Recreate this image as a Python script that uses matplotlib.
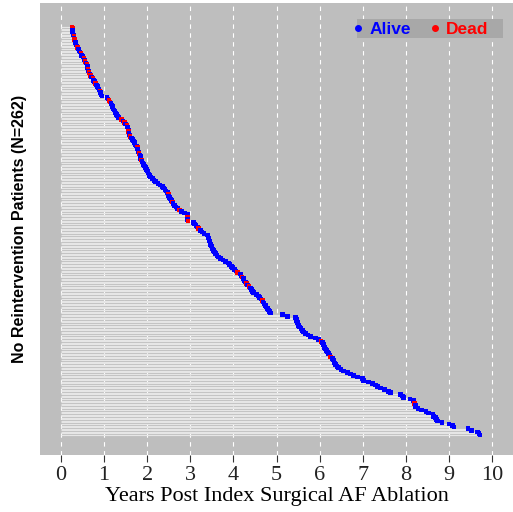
import matplotlib
matplotlib.use("Agg")
from matplotlib import pyplot as plt
from matplotlib.lines import Line2D
from matplotlib.patches import Rectangle
import numpy as np

# follow-up (years) per patient, shortest on top
years = [
    0.25, 0.26, 0.27, 0.27, 0.28, 0.29, 0.30, 0.30, 0.31, 0.32,
    0.33, 0.35, 0.37, 0.38, 0.40, 0.42, 0.44, 0.46, 0.48, 0.51,
    0.53, 0.55, 0.56, 0.58, 0.60, 0.61, 0.62, 0.63, 0.64, 0.65,
    0.67, 0.69, 0.71, 0.74, 0.76, 0.78, 0.80, 0.82, 0.84, 0.86,
    0.88, 0.90, 0.92, 0.93, 0.95, 1.07, 1.09, 1.11, 1.14, 1.16,
    1.18, 1.19, 1.21, 1.23, 1.25, 1.27, 1.29, 1.31, 1.33, 1.40,
    1.44, 1.47, 1.50, 1.53, 1.54, 1.55, 1.56, 1.57, 1.58, 1.59,
    1.60, 1.63, 1.66, 1.68, 1.70, 1.72, 1.75, 1.77, 1.78, 1.79,
    1.80, 1.81, 1.83, 1.84, 1.85, 1.87, 1.88, 1.90, 1.92, 1.94,
    1.96, 1.98, 2.00, 2.02, 2.04, 2.05, 2.07, 2.12, 2.16, 2.19,
    2.25, 2.30, 2.35, 2.38, 2.41, 2.44, 2.47, 2.49, 2.50, 2.52,
    2.54, 2.56, 2.58, 2.60, 2.63, 2.67, 2.70, 2.75, 2.80, 2.87,
    2.93, 2.93, 2.94, 2.94, 2.95, 3.07, 3.10, 3.13, 3.16, 3.19,
    3.23, 3.27, 3.32, 3.40, 3.41, 3.42, 3.43, 3.45, 3.46, 3.47,
    3.49, 3.50, 3.52, 3.54, 3.56, 3.58, 3.62, 3.66, 3.70, 3.76,
    3.82, 3.88, 3.91, 3.95, 3.98, 4.02, 4.06, 4.09, 4.16, 4.18,
    4.20, 4.23, 4.25, 4.28, 4.30, 4.33, 4.36, 4.40, 4.42, 4.45,
    4.47, 4.53, 4.58, 4.61, 4.64, 4.67, 4.69, 4.71, 4.74, 4.76,
    4.79, 4.81, 4.84, 4.86, 5.14, 5.26, 5.44, 5.46, 5.47, 5.49,
    5.50, 5.51, 5.54, 5.57, 5.60, 5.63, 5.67, 5.73, 5.79, 5.90,
    5.98, 6.03, 6.07, 6.09, 6.10, 6.12, 6.14, 6.16, 6.19, 6.21,
    6.24, 6.26, 6.30, 6.32, 6.33, 6.35, 6.37, 6.40, 6.44, 6.50,
    6.56, 6.65, 6.72, 6.79, 6.88, 7.00, 7.02, 7.14, 7.23, 7.30,
    7.35, 7.42, 7.51, 7.60, 7.65, 7.88, 7.93, 7.95, 8.10, 8.18,
    8.19, 8.20, 8.22, 8.23, 8.28, 8.37, 8.47, 8.53, 8.63, 8.65,
    8.69, 8.72, 8.74, 8.84, 9.00, 9.09, 9.12, 9.44, 9.53, 9.67,
    9.70, 9.72,
]

# rows (0 = top) whose end point is red
dead_rows = [0, 1, 6, 8, 9, 13, 17, 20, 22, 24, 27, 29, 31, 33, 36, 41,
             47, 48, 59, 61, 63, 67, 70, 77, 81, 85, 107, 112, 117, 122,
             124, 129, 157, 160, 164, 166, 175, 201, 211, 241]

status = ["Alive"] * len(years)
for r in dead_rows:
    status[r] = "Dead"

x_ticks = list(range(0, 11))

years = np.array(years)
rows = np.arange(len(years))
cols = np.array(["red" if s == "Dead" else "blue" for s in status])

fig = plt.figure(figsize=(5.13, 5.12), dpi=100)
ax = fig.add_axes([39.5 / 513, 57 / 512, 474 / 513, 452 / 512])
ax.set_facecolor("#BEBEBE")

for xv in x_ticks:
    ax.axvline(xv, color="white", lw=0.8, ls=(0, (4, 4)), zorder=1)

ax.hlines(rows, 0, years, color="#E6E6E6", lw=0.85, zorder=2)
ax.scatter(years, rows, c=cols, s=11, marker="s", linewidths=0, zorder=3)

n = len(years)
ax.set_xlim(-0.5, 10.5)
ax.set_ylim(n - 1 + 12.8, -15.4)

ax.set_xticks(x_ticks)
ax.set_xticklabels([str(t) for t in x_ticks], family="Liberation Serif",
                   fontsize=16, color="#222222")
ax.tick_params(axis="x", length=5, width=0.8, color="#333333", pad=3)
ax.set_yticks([])
for s in ax.spines.values():
    s.set_visible(False)

ax.set_xlabel("Years Post Index Surgical AF Ablation",
              family="Liberation Serif", fontsize=16, labelpad=1)
ax.set_ylabel("No Reintervention Patients (N=262)",
              family="Liberation Sans", fontweight="bold", fontsize=11.5,
              labelpad=9)

# legend background box
ax.add_patch(Rectangle((0.670, 0.9226), 0.308, 0.042, transform=ax.transAxes,
                       facecolor="#A8A8A8", edgecolor="none", zorder=4))

handles = [Line2D([], [], marker="o", ls="", color="blue", markersize=4),
           Line2D([], [], marker="o", ls="", color="red", markersize=4)]
leg = ax.legend(handles, ["Alive", "Dead"], ncol=2, loc="upper right",
                bbox_to_anchor=(0.953, 0.963), borderaxespad=0,
                frameon=False,
                prop={"family": "Liberation Sans", "weight": "bold", "size": 12.5},
                labelcolor=["blue", "red"], handletextpad=0.15,
                columnspacing=0.9, borderpad=0.15, handlelength=1.0)
leg.set_zorder(5)

fig.savefig("out.png", dpi=100)
